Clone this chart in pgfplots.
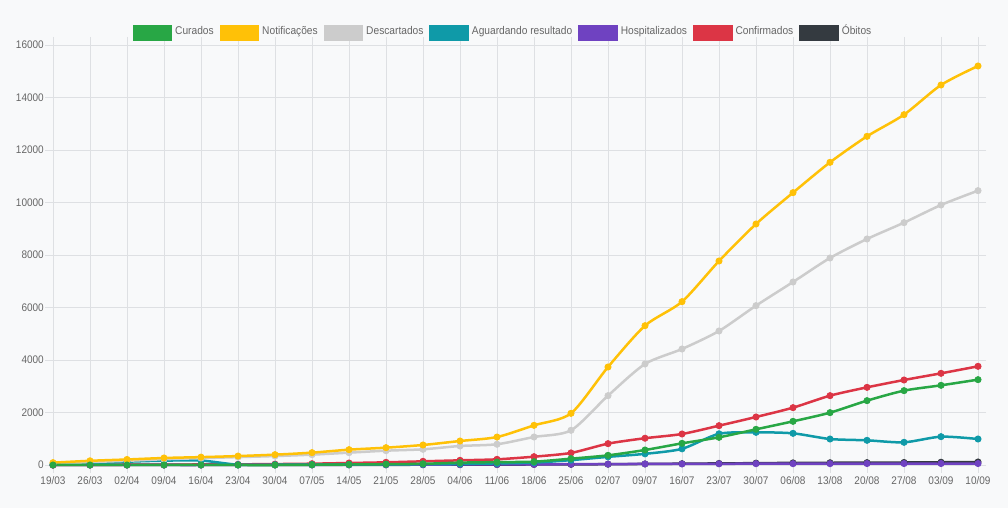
\documentclass[border=0pt]{standalone}
\usepackage{fontspec}
\setmainfont{Liberation Sans}[FakeStretch=0.91]
\usepackage{pgfplots}
\usepackage{pgfplotstable}
\pgfplotsset{compat=1.18}

\definecolor{curados}{HTML}{28A745}
\definecolor{notif}{HTML}{FFC107}
\definecolor{desc}{HTML}{CCCCCC}
\definecolor{aguard}{HTML}{0F9AA8}
\definecolor{hosp}{HTML}{6F42C1}
\definecolor{conf}{HTML}{DC3545}
\definecolor{obitos}{HTML}{343A40}
\definecolor{bg}{HTML}{F8F9FA}
\definecolor{gridc}{HTML}{DEE0E3}
\definecolor{txt}{HTML}{666666}

% weekly totals, one row per report date
\pgfplotstableread{
x  cur   notif  desc   agu   hosp  conf  obi
0  0     89     40     20    0     0     0
1  0     160    110    60    0     5     0
2  0     210    160    125   0     10    0
3  0     267    220    165   0     15    1
4  0     300    260    170   0     20    2
5  0     340    300    10    5     25    3
6  0     394    340    10    5     35    4
7  10    470    394    15    5     50    5
8  20    584    470    20    10    76    6
9  30    660    545    25    10    102   8
10 45    762    597    30    15    140   10
11 90    914    724    40    20    178   12
12 110   1065   790    60    25    216   15
13 127   1511   1067   90    25    317   20
14 241   1968   1321   185   30    460   25
15 368   3733   2641   310   35    813   30
16 571   5307   3848   425   40    1020  40
17 825   6222   4419   616   40    1181  50
18 1054  7771   5105   1188  45    1498  60
19 1359  9181   6070   1244  50    1829  70
20 1663  10375  6971   1206  50    2184  80
21 1994  11530  7886   990   50    2641  85
22 2451  12520  8610   940   55    2958  90
23 2832  13346  9232   864   55    3238  95
24 3035  14476  9905   1079  55    3492  105
25 3251  15200  10451  990   55    3759  115
}\data

\begin{document}
\begin{tikzpicture}[x=1bp,y=1bp]
\fill[bg] (0,0) rectangle (1008,508);
\begin{axis}[
  at={(53bp,43bp)}, anchor=south west,
  scale only axis, width=925bp, height=420bp,
  xmin=0, xmax=25, ymin=0, ymax=16000,
  xtick={0,...,25},
  xticklabels={19/03,26/03,02/04,09/04,16/04,23/04,30/04,07/05,14/05,21/05,28/05,04/06,11/06,18/06,25/06,02/07,09/07,16/07,23/07,30/07,06/08,13/08,20/08,27/08,03/09,10/09},
  ytick={0,2000,...,16000},
  scaled y ticks=false,
  /pgf/number format/1000 sep={},
  /pgf/number format/assume math mode=true,
  grid=major,
  major grid style={draw=gridc, line width=0.8bp},
  axis line style={draw=gridc, line width=0.8bp},
  tick style={draw=gridc, line width=0.8bp},
  tick align=outside,
  major tick length=8bp,
  tick label style={font=\fontsize{11bp}{13bp}\selectfont, text=txt},
  xticklabel style={inner sep=3bp},
  yticklabel style={inner sep=1bp},
  clip=false,
  reverse legend,
  legend columns=7,
  legend style={
    at={(0.4854,1.0286)}, anchor=center,
    draw=none, fill=none,
    font=\fontsize{11.2bp}{13bp}\selectfont, text=txt,
    nodes={text height=8bp, text depth=2.3bp, inner xsep=0pt, inner ysep=0pt},
    /tikz/every odd column/.append style={column sep=3bp},
    /tikz/every even column/.append style={column sep=6bp},
    inner sep=0pt,
  },
  legend image code/.code={\fill[#1] (0bp,-7.6bp) rectangle (37bp,5.1bp);},
  every axis plot/.append style={line width=2.5bp, mark=*, mark size=3.1bp,
    mark options={line width=0.8bp}, smooth, tension=0.45},
]
\addplot[color=obitos] table[x=x, y=obi] {\data};
\addlegendentry{Óbitos}
\addplot[color=conf] table[x=x, y=conf] {\data};
\addlegendentry{Confirmados}
\addplot[color=hosp] table[x=x, y=hosp] {\data};
\addlegendentry{Hospitalizados}
\addplot[color=aguard] table[x=x, y=agu] {\data};
\addlegendentry{Aguardando resultado}
\addplot[color=desc] table[x=x, y=desc] {\data};
\addlegendentry{Descartados}
\addplot[color=notif] table[x=x, y=notif] {\data};
\addlegendentry{Notificações}
\addplot[color=curados] table[x=x, y=cur] {\data};
\addlegendentry{Curados}
\end{axis}
\end{tikzpicture}
\end{document}
